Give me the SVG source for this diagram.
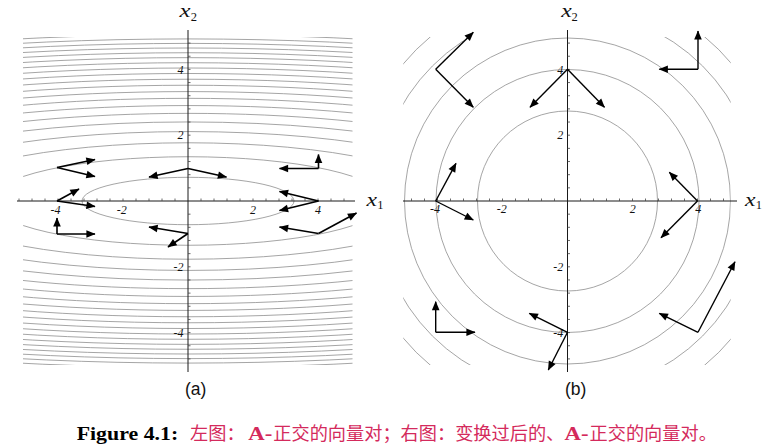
<svg xmlns="http://www.w3.org/2000/svg" width="773" height="448" viewBox="0 0 773 448">
<style>
.contour{fill:none;stroke:#8e8e8e;stroke-width:0.8}
.axis{fill:none;stroke:#1a1a1a;stroke-width:1}
.tick{fill:none;stroke:#444;stroke-width:0.8}
.num{font-family:"Liberation Serif",serif;font-style:italic;font-size:12px;fill:#111}
.var{font-family:"Liberation Serif",serif;font-style:italic;font-size:18px;fill:#111}
.sub{font-family:"Liberation Serif",serif;font-size:12.5px;fill:#111}
.va{fill:none;stroke:#000;stroke-width:1.6;marker-end:url(#ah)}
.vb{fill:none;stroke:#000;stroke-width:1.4;marker-end:url(#ah)}
.sublab{font-family:"Liberation Sans",Arial,sans-serif;font-size:17.5px;fill:#111}
.cap{font-family:"Noto Sans CJK SC",sans-serif;font-size:18.2px;fill:#d42a5c}
.capb{font-family:"Liberation Serif",serif;font-weight:bold;font-size:19px}
</style>
<defs>
<clipPath id="clipA"><rect x="23" y="37" width="329.5" height="328"/></clipPath>
<clipPath id="clipB"><rect x="403.3" y="37" width="327.4" height="328"/></clipPath>
<marker id="ah" markerUnits="userSpaceOnUse" markerWidth="10" markerHeight="8" refX="8.6" refY="3.8" orient="auto" overflow="visible">
<path d="M0,0 L9.2,3.8 L0,7.6 Z" fill="#000"/>
</marker>
</defs>
<rect width="773" height="448" fill="#fff"/>

<g id="plot-a">
<g id="contours-a" clip-path="url(#clipA)">
<ellipse class="contour" cx="188" cy="201" rx="106" ry="23.7"/>
<ellipse class="contour" cx="188" cy="201" rx="197.9" ry="44.27"/>
<ellipse class="contour" cx="188" cy="201" rx="260.3" ry="58.22"/>
<ellipse class="contour" cx="188" cy="201" rx="310.4" ry="69.43"/>
<ellipse class="contour" cx="188" cy="201" rx="353.4" ry="79.06"/>
<ellipse class="contour" cx="188" cy="201" rx="391.7" ry="87.64"/>
<ellipse class="contour" cx="188" cy="201" rx="426.7" ry="95.45"/>
<ellipse class="contour" cx="188" cy="201" rx="458.9" ry="102.66"/>
<ellipse class="contour" cx="188" cy="201" rx="489.1" ry="109.41"/>
<ellipse class="contour" cx="188" cy="201" rx="517.4" ry="115.76"/>
<ellipse class="contour" cx="188" cy="201" rx="544.4" ry="121.78"/>
<ellipse class="contour" cx="188" cy="201" rx="570.0" ry="127.51"/>
<ellipse class="contour" cx="188" cy="201" rx="594.5" ry="133.0"/>
<ellipse class="contour" cx="188" cy="201" rx="618.1" ry="138.28"/>
<ellipse class="contour" cx="188" cy="201" rx="640.8" ry="143.35"/>
<ellipse class="contour" cx="188" cy="201" rx="662.7" ry="148.26"/>
<ellipse class="contour" cx="188" cy="201" rx="683.9" ry="153.0"/>
<ellipse class="contour" cx="188" cy="201" rx="704.5" ry="157.61"/>
<ellipse class="contour" cx="188" cy="201" rx="724.5" ry="162.08"/>
<ellipse class="contour" cx="188" cy="201" rx="744.0" ry="166.43"/>
</g>
<g id="axes-a">
<line class="axis" x1="17" y1="201" x2="355" y2="201"/>
<line class="axis" x1="188" y1="30" x2="188" y2="372"/>
<path class="tick" d="M19,201v-2.5M32,201v-2.5M45,201v-2.5M58,201v-2.5M71,201v-2.5M84,201v-2.5M97,201v-2.5M110,201v-2.5M123,201v-2.5M136,201v-2.5M149,201v-2.5M162,201v-2.5M175,201v-2.5M201,201v-2.5M214,201v-2.5M227,201v-2.5M240,201v-2.5M253,201v-2.5M266,201v-2.5M279,201v-2.5M292,201v-2.5M305,201v-2.5M318,201v-2.5M331,201v-2.5M344,201v-2.5"/>
<path class="tick" d="M188,43.08h2.5M188,56.24h2.5M188,69.4h2.5M188,82.56h2.5M188,95.72h2.5M188,108.88h2.5M188,122.04h2.5M188,135.2h2.5M188,148.36h2.5M188,161.52h2.5M188,174.68h2.5M188,187.84h2.5M188,214.16h2.5M188,227.32h2.5M188,240.48h2.5M188,253.64h2.5M188,266.8h2.5M188,279.96h2.5M188,293.12h2.5M188,306.28h2.5M188,319.44h2.5M188,332.6h2.5M188,345.76h2.5M188,358.92h2.5"/>
<text class="num" x="183.5" y="73.6" text-anchor="end">4</text>
<text class="num" x="183.5" y="139.4" text-anchor="end">2</text>
<text class="num" x="183.5" y="271" text-anchor="end">-2</text>
<text class="num" x="183.5" y="336.8" text-anchor="end">-4</text>
<text class="num" x="55.5" y="213.5" text-anchor="middle">-4</text>
<text class="num" x="121.7" y="213.5" text-anchor="middle">-2</text>
<text class="num" x="253" y="213.5" text-anchor="middle">2</text>
<text class="num" x="318" y="213.5" text-anchor="middle">4</text>
<text class="var" x="179.5" y="16.7" textLength="11" lengthAdjust="spacingAndGlyphs">x</text><text class="sub" x="190.8" y="20.7">2</text>
<text class="var" x="366.5" y="205.7" textLength="10.5" lengthAdjust="spacingAndGlyphs">x</text><text class="sub" x="377.2" y="208.5">1</text>
</g>
<g id="vectors-a">
<line class="va" x1="57" y1="167.5" x2="95" y2="159.5"/>
<line class="va" x1="57" y1="167.5" x2="95" y2="176.5"/>
<line class="va" x1="188" y1="168.5" x2="149" y2="177"/>
<line class="va" x1="188" y1="168.5" x2="226.5" y2="177"/>
<line class="va" x1="318.5" y1="168.5" x2="318.5" y2="154.5"/>
<line class="va" x1="318.5" y1="168.5" x2="279.5" y2="168.5"/>
<line class="va" x1="57" y1="201" x2="79" y2="189"/>
<line class="va" x1="57" y1="201" x2="95" y2="206.5"/>
<line class="va" x1="318.5" y1="201" x2="279.5" y2="191.5"/>
<line class="va" x1="318.5" y1="201" x2="279.5" y2="210.5"/>
<line class="va" x1="57" y1="234" x2="57" y2="218"/>
<line class="va" x1="57" y1="234" x2="95" y2="234"/>
<line class="va" x1="188" y1="233.5" x2="149" y2="227"/>
<line class="va" x1="188" y1="233.5" x2="168" y2="247"/>
<line class="va" x1="318.5" y1="233.5" x2="279.5" y2="227"/>
<line class="va" x1="318.5" y1="233.5" x2="356.5" y2="213"/>
</g>
<text id="label-a" class="sublab" x="185" y="394.6">(a)</text>
</g>

<g id="plot-b">
<g id="contours-b" clip-path="url(#clipB)">
<circle class="contour" cx="567.5" cy="201" r="90"/>
<circle class="contour" cx="567.5" cy="201" r="131.5"/>
<circle class="contour" cx="567.5" cy="201" r="163"/>
<circle class="contour" cx="567.5" cy="201" r="191"/>
<circle class="contour" cx="567.5" cy="201" r="214"/>
</g>
<g id="axes-b">
<line class="axis" x1="403" y1="201" x2="737" y2="201"/>
<line class="axis" x1="567.5" y1="30" x2="567.5" y2="372"/>
<path class="tick" d="M411.5,201v-2.5M424.5,201v-2.5M437.5,201v-2.5M450.5,201v-2.5M463.5,201v-2.5M476.5,201v-2.5M489.5,201v-2.5M502.5,201v-2.5M515.5,201v-2.5M528.5,201v-2.5M541.5,201v-2.5M554.5,201v-2.5M580.5,201v-2.5M593.5,201v-2.5M606.5,201v-2.5M619.5,201v-2.5M632.5,201v-2.5M645.5,201v-2.5M658.5,201v-2.5M671.5,201v-2.5M684.5,201v-2.5M697.5,201v-2.5M710.5,201v-2.5M723.5,201v-2.5"/>
<path class="tick" d="M567.5,43.08h2.5M567.5,56.24h2.5M567.5,69.4h2.5M567.5,82.56h2.5M567.5,95.72h2.5M567.5,108.88h2.5M567.5,122.04h2.5M567.5,135.2h2.5M567.5,148.36h2.5M567.5,161.52h2.5M567.5,174.68h2.5M567.5,187.84h2.5M567.5,214.16h2.5M567.5,227.32h2.5M567.5,240.48h2.5M567.5,253.64h2.5M567.5,266.8h2.5M567.5,279.96h2.5M567.5,293.12h2.5M567.5,306.28h2.5M567.5,319.44h2.5M567.5,332.6h2.5M567.5,345.76h2.5M567.5,358.92h2.5"/>
<text class="num" x="563.3" y="73.6" text-anchor="end">4</text>
<text class="num" x="563.3" y="139.4" text-anchor="end">2</text>
<text class="num" x="563.3" y="271" text-anchor="end">-2</text>
<text class="num" x="563.3" y="336.6" text-anchor="end">-4</text>
<text class="num" x="435" y="213.3" text-anchor="middle">-4</text>
<text class="num" x="501.7" y="213.3" text-anchor="middle">-2</text>
<text class="num" x="632.8" y="213.3" text-anchor="middle">2</text>
<text class="num" x="698.3" y="213.3" text-anchor="middle">4</text>
<text class="var" x="561.3" y="17.3" textLength="10.5" lengthAdjust="spacingAndGlyphs">x</text><text class="sub" x="571.5" y="20.7">2</text>
<text class="var" x="745" y="205.7" textLength="10.5" lengthAdjust="spacingAndGlyphs">x</text><text class="sub" x="755.8" y="208.5">1</text>
</g>
<g id="vectors-b">
<line class="vb" x1="435.7" y1="69.3" x2="473.3" y2="32.3"/>
<line class="vb" x1="435.7" y1="69.3" x2="473.3" y2="107.3"/>
<line class="vb" x1="567.5" y1="69.3" x2="530" y2="107.3"/>
<line class="vb" x1="567.5" y1="69.3" x2="604.5" y2="107.3"/>
<line class="vb" x1="698" y1="69.3" x2="698" y2="31"/>
<line class="vb" x1="698" y1="69.3" x2="659.3" y2="69.3"/>
<line class="vb" x1="435.7" y1="201" x2="456" y2="163.3"/>
<line class="vb" x1="435.7" y1="201" x2="473.3" y2="220"/>
<line class="vb" x1="697.5" y1="201" x2="669.3" y2="172.3"/>
<line class="vb" x1="697.5" y1="201" x2="661" y2="237.7"/>
<line class="vb" x1="435.7" y1="332.3" x2="435.7" y2="301.7"/>
<line class="vb" x1="435.7" y1="332.3" x2="475" y2="332.3"/>
<line class="vb" x1="567.5" y1="332.3" x2="529.3" y2="313.3"/>
<line class="vb" x1="567.5" y1="332.3" x2="548.3" y2="370"/>
<line class="vb" x1="698" y1="332.3" x2="659.3" y2="313.3"/>
<line class="vb" x1="698" y1="332.3" x2="735" y2="261.7"/>
</g>
<text id="label-b" class="sublab" x="565" y="394.6">(b)</text>
</g>

<g id="caption">
<text class="capb" x="76.7" y="439.7" textLength="101.6" lengthAdjust="spacingAndGlyphs">Figure 4.1:</text>
<text class="cap" x="190" y="440">左图：</text>
<text class="capb" x="248.3" y="439.7" fill="#d42a5c" textLength="24" lengthAdjust="spacingAndGlyphs">A-</text>
<text class="cap" x="273.3" y="440">正交的向量对；右图：变换过后的、</text>
<text class="capb" x="564.5" y="439.7" fill="#d42a5c" textLength="24" lengthAdjust="spacingAndGlyphs">A-</text>
<text class="cap" x="589.5" y="440">正交的向量对。</text>
</g>
</svg>
